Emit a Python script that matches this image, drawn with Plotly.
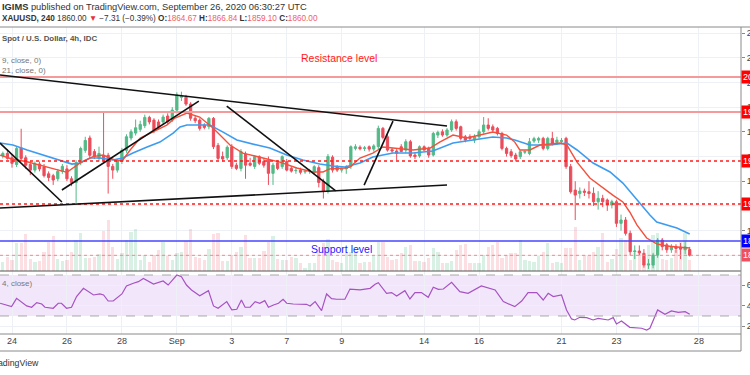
import plotly.graph_objects as go

# ---------------- data ----------------
# bar index: 4h bars, 0 = first bar of Aug 24
bar_index = list(range(-2, 149))

opens = [
    1940.5, 1942.5, 1939, 1933.5, 1947, 1939, 1933.5, 1929, 1934, 1931.5,
    1926, 1924.5, 1922, 1928, 1930, 1922, 1919, 1935, 1945, 1955,
    1944, 1938.5, 1941, 1941, 1932, 1929, 1936, 1945, 1955, 1959,
    1962, 1965, 1971.7, 1969.5, 1968, 1968, 1972.8, 1969.5, 1977.6, 1988,
    1988, 1982.5, 1971, 1969.5, 1965.5, 1964.2, 1970.9, 1949, 1940, 1939,
    1948, 1933, 1930.4, 1942, 1934.5, 1932, 1939.9, 1936, 1937, 1926.4,
    1935, 1931.8, 1936, 1930.4, 1928.5, 1929, 1927.5, 1928, 1927, 1931,
    1920, 1912, 1939.5, 1931.5, 1929, 1930, 1932, 1946.6, 1947.5, 1946.5,
    1947.9, 1946, 1948, 1962.8, 1956, 1945.5, 1944.5, 1947.9, 1945.2, 1952,
    1941.2, 1940.5, 1947.9, 1946.6, 1941.2, 1957.4, 1960, 1957.4, 1961.5, 1968.2,
    1964.1, 1956, 1956, 1953.3, 1956, 1960.1, 1965.5, 1964.1, 1962.8, 1958.7,
    1946.6, 1943.9, 1941.2, 1939.9, 1943.5, 1942.5, 1952.5, 1953.3, 1954.7, 1946.6,
    1954.7, 1951.5, 1952, 1954.7, 1931.8, 1912.8, 1910, 1912, 1911.5, 1910.2,
    1903.4, 1906.1, 1904.8, 1900.7, 1903.4, 1885.9, 1888.6, 1877.8, 1862.9, 1863.5,
    1861.6, 1852.1, 1852.1, 1860.2, 1872.4, 1868.5, 1864.5, 1867, 1866.5, 1864.5,
    1864.67,
]
highs = [
    1944, 1946, 1942, 1948, 1962.5, 1941, 1936, 1936, 1936, 1934,
    1928, 1926, 1930, 1934, 1933, 1924, 1937, 1948, 1956, 1957,
    1946, 1948, 1976, 1943, 1934, 1938, 1947, 1958, 1962, 1970,
    1969, 1974, 1973, 1971, 1970, 1974, 1975, 1980, 1992, 1992.5,
    1990, 1984, 1973, 1971, 1967, 1972, 1972, 1951, 1944, 1949,
    1950, 1935, 1946, 1944, 1939, 1941, 1941, 1938, 1940, 1935,
    1937, 1941, 1938, 1932, 1931, 1931, 1929, 1930, 1933, 1933,
    1922, 1942, 1941, 1933, 1931, 1933, 1949, 1950, 1949, 1948.5,
    1949, 1950, 1965, 1964, 1958, 1947, 1946, 1950, 1954, 1953.5,
    1943, 1949, 1949, 1948, 1960, 1961, 1962, 1963, 1970, 1970,
    1965, 1957.5, 1958, 1958, 1962, 1972, 1971, 1966, 1964, 1960,
    1948, 1946, 1943, 1945, 1945, 1955, 1956, 1956, 1956, 1956,
    1960, 1956, 1955, 1956, 1934, 1920, 1915, 1914, 1920, 1915,
    1912, 1909, 1906, 1905, 1905, 1893, 1891, 1880, 1868, 1868,
    1865, 1857, 1862, 1874, 1874, 1870, 1869, 1869, 1870, 1871,
    1866.84,
]
lows = [
    1938.5, 1937.5, 1931, 1931.5, 1937, 1930, 1925, 1927, 1928, 1923,
    1920, 1917, 1920, 1926, 1920, 1916, 1902.5, 1933, 1943, 1939,
    1938, 1936, 1935, 1910, 1922, 1927, 1934, 1943, 1953, 1957,
    1960, 1963, 1966, 1959, 1962, 1966, 1966, 1968, 1975, 1985,
    1981, 1969, 1967, 1961, 1962, 1962, 1946, 1937, 1936, 1937,
    1930, 1929, 1928, 1922, 1932, 1930, 1933, 1931, 1917, 1917,
    1929, 1930, 1928, 1927, 1926, 1925.5, 1926, 1926, 1925, 1915,
    1906, 1910, 1927, 1927.5, 1927, 1926, 1930, 1945, 1945, 1944.5,
    1944, 1944, 1946, 1954, 1944, 1943, 1937, 1944, 1943, 1939,
    1938, 1939, 1945, 1939, 1940, 1955, 1956, 1956, 1960, 1961,
    1953, 1951.5, 1953, 1951, 1954.5, 1958.5, 1961, 1960, 1957, 1945,
    1940, 1939, 1936, 1938, 1942, 1941, 1951, 1951, 1945, 1945,
    1949, 1949.5, 1950, 1930, 1910, 1888.6, 1906, 1908, 1906, 1900,
    1897, 1899, 1896, 1898, 1883, 1880, 1876, 1860, 1857, 1860,
    1850, 1849, 1849.5, 1858, 1864, 1862, 1862, 1862, 1857, 1861,
    1859.10,
]
closes = [
    1942.5, 1938.5, 1934.5, 1946.5, 1938.5, 1933, 1929, 1934, 1930, 1924.5,
    1923, 1921, 1928, 1932, 1922, 1919, 1935, 1946.5, 1953, 1941,
    1940, 1942.5, 1937, 1932, 1929, 1936.4, 1945, 1956, 1960, 1963.3,
    1966, 1971.7, 1968, 1961.5, 1964, 1972, 1968.2, 1977.6, 1989.8, 1989,
    1982.5, 1971, 1969, 1962.8, 1963.6, 1970.9, 1948, 1938.5, 1938, 1947.5,
    1932, 1930.4, 1944, 1933, 1933, 1939.9, 1934.5, 1933, 1926.4, 1933,
    1930.4, 1939.9, 1929, 1928.2, 1928.8, 1927.2, 1928, 1928.5, 1931.8, 1919,
    1912, 1940, 1929, 1929, 1929.8, 1931, 1947.9, 1947.9, 1946.3, 1947,
    1946, 1948.6, 1962.8, 1955.5, 1945.2, 1944.5, 1942.5, 1944, 1952, 1940.5,
    1939.9, 1947.9, 1945.2, 1941.2, 1958.7, 1959.5, 1957.4, 1961.5, 1968.2, 1962.8,
    1954.7, 1953.3, 1954.7, 1956, 1960.1, 1965.5, 1962.8, 1961.4, 1958.7, 1946.6,
    1942.5, 1940.7, 1938, 1943.9, 1944, 1952, 1954.5, 1954.7, 1946.6, 1954.7,
    1950.6, 1953.3, 1953, 1931.8, 1911.5, 1908.8, 1912, 1911, 1910, 1903.4,
    1906.1, 1903.4, 1900.7, 1903.4, 1885.9, 1888.6, 1877.8, 1862.9, 1863.5, 1862,
    1852.1, 1853, 1860.2, 1872.4, 1867, 1864.5, 1867, 1865.5, 1865, 1866.8,
    1860.00,
]
volumes = [
    9300, 14300, 11000, 27700, 27700, 37000, 11700, 9300, 10300, 19000,
    29300, 35000, 11700, 10300, 11000, 19000, 31000, 37700, 12700, 12700,
    14300, 17000, 40300, 51000, 24300, 11700, 17700, 31000, 39300, 42000,
    11000, 16000, 9300, 16000, 21000, 28700, 15000, 11000, 17700, 19300,
    30300, 41700, 13700, 12700, 11000, 21700, 36700, 37700, 10300, 10300,
    16000, 19300, 23700, 36000, 12700, 12700, 12700, 20000, 28700, 35300,
    11700, 11000, 11000, 13700, 12700, 8300, 3000, 8300, 8300, 19300,
    27700, 31700, 11000, 9300, 8300, 19300, 19300, 20300, 7700, 9300,
    9300, 16000, 29300, 29300, 14300, 11000, 11700, 17700, 24300, 26000,
    10000, 10000, 9300, 12700, 22700, 19300, 7700, 8300, 10300, 21000,
    26000, 27000, 8300, 8300, 8300, 16000, 24300, 26000, 29300, 12700,
    16000, 17700, 17700, 31000, 11000, 10300, 9300, 15000, 19300, 27700,
    8300, 9300, 8300, 22700, 22700, 44300, 11000, 16000, 15000, 19300,
    24300, 38300, 9300, 11700, 21700, 32700, 31000, 11000, 18300, 19300,
    14300, 26000, 36000, 37700, 11700, 11000, 12700, 21000, 29300, 37700,
    11000,
]

ema9_points = [
    (-2.6, 1941.2), (0, 1938), (3.3, 1935.8), (6.1, 1933.1), (9.8, 1929),
    (12, 1927.2), (14.8, 1934.7), (17.7, 1939.9), (19.9, 1941.2), (22.9, 1936.4),
    (24.2, 1937.2), (25.8, 1945.3), (28, 1955), (30.8, 1960), (33.8, 1965.5),
    (35.6, 1971.2), (38.2, 1975.2), (41, 1972), (43.9, 1963.1), (47.6, 1949.3),
    (50.4, 1942.8), (54.8, 1938.8), (58.5, 1935.5), (62.2, 1930.7), (65.7, 1927.5),
    (67.9, 1927.5), (69.4, 1930), (72.7, 1930.7), (73.8, 1931.5), (76, 1938.8),
    (78.8, 1942.8), (81, 1947.7), (83.2, 1946.9), (87.6, 1945.3), (91.3, 1946.9),
    (93.4, 1951.7), (96.3, 1957.4), (99.3, 1955), (102.2, 1957.4), (105, 1959.8),
    (108, 1957.4), (109.8, 1951.7), (110.9, 1945.3), (113.1, 1945.3), (115.3, 1949.3),
    (119.7, 1950.9), (121.2, 1949.3), (123.4, 1935.5), (126.2, 1922.6), (129, 1914.5),
    (131.2, 1908.8), (133.4, 1903.2), (134.9, 1895.1), (136.5, 1884.5), (138.6, 1874),
    (140.8, 1869.2), (143, 1867.5), (145.2, 1866.7), (148, 1865.9),
]
ema21_points = [
    (-2.6, 1950.9), (0.2, 1949.3), (3.3, 1945.3), (6.8, 1941.2), (10.5, 1936.4),
    (13.1, 1933.9), (14.8, 1934.7), (17, 1938.8), (19.2, 1938.8), (22, 1937.2),
    (24.2, 1938.8), (26.4, 1942.8), (29.5, 1947.7), (32.3, 1951.7), (35.2, 1959),
    (36.7, 1963.9), (38.2, 1965.5), (41, 1965.5), (43.2, 1965.5), (46.1, 1959.8),
    (49.1, 1953.4), (53.5, 1949.3), (56.3, 1946.9), (60, 1941.2), (63.5, 1937.2),
    (67.2, 1933.9), (70.1, 1932.3), (72.7, 1931.5), (76, 1934.7), (78.8, 1939.6),
    (83.2, 1942.8), (87.6, 1942.8), (91.9, 1944.5), (96.3, 1950.9), (100.7, 1953.4),
    (105, 1955.8), (108, 1955), (109.8, 1953.4), (113.1, 1949.3), (117.5, 1949.3),
    (121.2, 1950.9), (123.4, 1945.3), (126.9, 1934.7), (130.6, 1927.5), (133.4, 1918.5),
    (136.5, 1904.8), (139.3, 1892.6), (140.8, 1887), (145.2, 1882.1), (148, 1877.3),
]
rsi_points = [
    (-2.6, 42.4), (-0.1, 39.1), (1.0, 47.2), (3.2, 39.8), (4.3, 38.5), (5.4, 43.0),
    (6.5, 41.7), (7.2, 38.5), (9.0, 37.5), (10.1, 42.4), (10.8, 42.4), (11.9, 37.5),
    (13.0, 38.5), (14.1, 48.9), (15.6, 57.0), (16.7, 53.7), (17.8, 50.5), (19.2, 51.5),
    (20.0, 50.5), (21.0, 44.6), (22.1, 44.6), (24.0, 51.5), (25.0, 59.3), (26.5, 61.9),
    (27.6, 63.5), (28.7, 66.7), (29.8, 64.2), (30.9, 61.2), (33.0, 64.2), (34.1, 60.2),
    (36.0, 70.0), (37.0, 68.4), (38.1, 60.2), (39.2, 55.4), (41.0, 49.8), (42.9, 54.7),
    (44.0, 39.8), (45.0, 37.5), (46.9, 44.0), (48.0, 35.9), (49.1, 36.5), (50.1, 45.6),
    (50.9, 38.5), (52.0, 38.5), (53.1, 44.0), (54.1, 42.4), (55.2, 45.0), (56.0, 38.5),
    (57.1, 40.7), (58.2, 42.4), (59.2, 46.3), (60.0, 42.4), (61.4, 41.7), (62.9, 41.4),
    (64.3, 41.4), (65.1, 39.8), (66.2, 44.0), (67.6, 35.2), (68.7, 51.5), (69.8, 46.9),
    (70.9, 46.3), (72.7, 46.3), (73.8, 56.3), (76.0, 55.4), (78.2, 57.0), (79.3, 61.0),
    (80.0, 62.5), (81.8, 52.1), (82.9, 52.8), (84.0, 49.5), (85.8, 54.7), (86.9, 46.6),
    (88.0, 52.8), (89.4, 52.8), (90.9, 48.2), (92.0, 58.0), (93.1, 56.0), (94.2, 56.3),
    (96.0, 62.9), (97.8, 53.7), (99.6, 52.1), (102.5, 59.3), (104.4, 57.0), (105.5, 55.4),
    (107.3, 44.0), (109.8, 39.1), (111.3, 44.6), (112.7, 52.8), (114.6, 52.8), (116.0, 45.6),
    (117.1, 52.1), (118.2, 48.9), (120.0, 50.5), (121.1, 35.9), (122.2, 27.1), (122.9, 26.1),
    (124.0, 28.7), (125.5, 28.4), (126.9, 26.1), (128.0, 27.7), (130.2, 26.1), (131.3, 28.4),
    (132.0, 22.2), (133.1, 25.1), (134.9, 18.9), (136.8, 18.6), (137.5, 18.0), (138.6, 16.3),
    (139.3, 18.0), (141.0, 35.9), (142.6, 31.6), (144.0, 34.9), (145.5, 33.6), (147.0, 34.2),
    (148.0, 31.6),
]

date_tick_idx = [0, 12, 24, 36, 48, 60, 72, 90, 102, 120, 132, 150]
date_tick_text = ["24", "26", "28", "Sep", "3", "7", "9", "14", "16", "21", "23", "28"]
price_ticks = [1860, 1880, 1900, 1920, 1940, 1960, 1980, 2000, 2020, 2040]
rsi_ticks = [20, 40, 60]

# horizontal levels
level_prices = [2004.5, 1976.0, 1936.4, 1901.5, 1871.6, 1860.0]
level_colors = ["#f59a9a", "#f59a9a", "#ff1a1a", "#ff1a1a", "#4646ff", "#f08a8a"]
level_dash = ["solid", "solid", "dot", "dot", "solid", "dot"]
level_width = [2, 2, 1.6, 1.6, 1.5, 1]
level_box = ["#ff0000", "#ff0000", "#ff0000", "#ff0000", "#0000ff", "#ef5060"]

# trendlines drawn on the chart: ((bar, price), (bar, price))
trendlines = [
    ((-2.62, 2006.0), (95.0, 1964.7)),
    ((-2.62, 1898.3), (95.0, 1916.9)),
    ((-2.62, 1950.9), (10.9, 1903.2)),
    ((10.9, 1912.9), (40.8, 1984.9)),
    ((46.9, 1980.9), (70.7, 1912.1)),
    ((76.9, 1916.9), (83.2, 1968.7)),
]

# ---------------- layout geometry ----------------
W, H = 750, 375
MT, MB, MR = 27, 24, 9
PH = H - MT - MB
PW = W - MR


def py(ypx):
    return (H - MB - ypx) / PH


main_dom = [py(271), 1.0]
rsi_dom = [py(334), py(271)]
x_range = [-2.62, 159.2]

UP, DOWN = "#53b987", "#eb4d5c"
GRID = "#edf0f5"
FONT = "Liberation Sans, Arial, sans-serif"

vol_colors = ["rgba(83,185,135,0.22)" if c >= o else "rgba(235,77,92,0.18)"
              for o, c in zip(opens, closes)]

fig = go.Figure()
fig.add_trace(go.Bar(x=bar_index, y=volumes, marker=dict(color=vol_colors, line=dict(width=0)),
                     width=0.72, xaxis="x", yaxis="y", hoverinfo="skip"))
fig.add_trace(go.Candlestick(
    x=bar_index, open=opens, high=highs, low=lows, close=closes,
    increasing=dict(line=dict(color=UP, width=1), fillcolor=UP),
    decreasing=dict(line=dict(color=DOWN, width=1), fillcolor=DOWN),
    whiskerwidth=0, xaxis="x", yaxis="y3"))
fig.add_trace(go.Scatter(x=[p[0] for p in ema21_points], y=[p[1] for p in ema21_points],
                         mode="lines", line=dict(color="#3d9cf0", width=1.6),
                         xaxis="x", yaxis="y3"))
fig.add_trace(go.Scatter(x=[p[0] for p in ema9_points], y=[p[1] for p in ema9_points],
                         mode="lines", line=dict(color="#f4503c", width=1.4),
                         xaxis="x", yaxis="y3"))
fig.add_trace(go.Scatter(x=[p[0] for p in rsi_points], y=[p[1] for p in rsi_points],
                         mode="lines", line=dict(color="#a652c2", width=1.2),
                         xaxis="x2", yaxis="y2"))

shapes = []
shapes.append(dict(type="rect", xref="paper", yref="y2", x0=0, x1=1, y0=30, y1=70,
                   fillcolor="#f2e6fb", line=dict(width=0), layer="below"))
for lv in (70, 30):
    shapes.append(dict(type="line", xref="paper", yref="y2", x0=0, x1=1, y0=lv, y1=lv,
                       line=dict(color="#a8a8a8", width=1, dash="dash")))
for p, c, d, w in zip(level_prices, level_colors, level_dash, level_width):
    shapes.append(dict(type="line", xref="paper", yref="y3", x0=0, x1=1, y0=p, y1=p,
                       line=dict(color=c, width=w, dash=d)))
for (a, b) in trendlines:
    shapes.append(dict(type="line", xref="x", yref="y3", x0=a[0], y0=a[1], x1=b[0], y1=b[1],
                       line=dict(color="#111111", width=1.6)))
frame = "#8a8a8a"
shapes += [
    dict(type="line", xref="paper", yref="paper", x0=0, x1=1.02, y0=1, y1=1, line=dict(color=frame, width=1)),
    dict(type="line", xref="paper", yref="paper", x0=0, x1=1, y0=main_dom[0], y1=main_dom[0], line=dict(color="#555555", width=1)),
    dict(type="line", xref="paper", yref="paper", x0=0, x1=1, y0=rsi_dom[0], y1=rsi_dom[0], line=dict(color=frame, width=1)),
    dict(type="line", xref="paper", yref="paper", x0=0, x1=1, y0=0, y1=0, line=dict(color=frame, width=1)),
    dict(type="line", xref="paper", yref="paper", x0=1, x1=1, y0=0, y1=1, line=dict(color=frame, width=1)),
]

ann = []
ann.append(dict(xref="paper", yref="paper", x=0, y=py(7), xanchor="left", yanchor="middle", showarrow=False,
                text="<b>IGIMS</b> published on TradingView.com, September 26, 2020 06:30:27 UTC",
                font=dict(family=FONT, size=9.3, color="#333333")))
red = "#f0606a"
ann.append(dict(xref="paper", yref="paper", x=0, y=py(19), xanchor="left", yanchor="middle", showarrow=False,
                text=("<b>XAUUSD, 240</b> 1860.00 <span style='color:#e8303c'>▼</span> −7.31 (−0.39%) "
                      f"<b>O:</b><span style='color:{red}'>1864.67</span> "
                      f"<b>H:</b><span style='color:{red}'>1866.84</span> "
                      f"<b>L:</b><span style='color:{red}'>1859.10</span> "
                      f"<b>C:</b><span style='color:{red}'>1860.00</span>"),
                font=dict(family=FONT, size=8.2, color="#333333")))
ann.append(dict(xref="paper", yref="paper", x=0, y=py(38), xanchor="left", yanchor="middle", showarrow=False,
                text="<b>Spot / U.S. Dollar, 4h, IDC</b>", font=dict(family=FONT, size=7.9, color="#555555")))
ann.append(dict(xref="paper", yref="paper", x=0, y=py(60), xanchor="left", yanchor="middle", showarrow=False,
                text="9, close, 0)", font=dict(family=FONT, size=8, color="#777777")))
ann.append(dict(xref="paper", yref="paper", x=0, y=py(70), xanchor="left", yanchor="middle", showarrow=False,
                text="21, close, 0)", font=dict(family=FONT, size=8, color="#777777")))
ann.append(dict(xref="paper", yref="paper", x=0, y=py(283), xanchor="left", yanchor="middle", showarrow=False,
                text="4, close)", font=dict(family=FONT, size=8, color="#777777")))
ann.append(dict(xref="paper", yref="paper", x=339 / PW, y=py(58), xanchor="center", yanchor="middle", showarrow=False,
                text="Resistance level", font=dict(family=FONT, size=10.5, color="#ff1a1a")))
ann.append(dict(xref="paper", yref="paper", x=341 / PW, y=py(249), xanchor="center", yanchor="middle", showarrow=False,
                text="Support level", font=dict(family=FONT, size=10.5, color="#2020ff")))
ann.append(dict(xref="paper", yref="paper", x=41 / PW, y=py(363), xanchor="right", yanchor="middle", showarrow=False,
                text="TradingView", font=dict(family=FONT, size=8.8, color="#333333")))
for p, bc in zip(level_prices, level_box):
    ann.append(dict(xref="paper", yref="y3", x=1.0, y=p, xanchor="left", yanchor="middle", showarrow=False,
                    text=f"{p:.2f}", bgcolor=bc, borderpad=1,
                    font=dict(family=FONT, size=9, color="white")))

fig.update_layout(
    width=W, height=H, margin=dict(l=0, r=MR, t=MT, b=MB, pad=0, autoexpand=False),
    paper_bgcolor="white", plot_bgcolor="white", showlegend=False,
    font=dict(family=FONT, size=9, color="#444444"),
    shapes=shapes, annotations=ann, bargap=0,
    xaxis=dict(domain=[0, 1], range=x_range, anchor="y", tickmode="array", tickvals=date_tick_idx,
               showticklabels=False, ticks="", showgrid=True, gridcolor=GRID, zeroline=False,
               rangeslider=dict(visible=False), automargin=False),
    yaxis=dict(domain=main_dom, range=[0, 244000], visible=False, showgrid=False, fixedrange=True,
               automargin=False),
    yaxis3=dict(overlaying="y", anchor="x", side="right", range=[1847.3, 2044.9], tickmode="array",
                tickvals=price_ticks, ticktext=[f"{t:.2f}" for t in price_ticks],
                ticks="outside", ticklen=3, tickcolor="#888888", showgrid=True, gridcolor=GRID,
                zeroline=False, tickfont=dict(size=9, color="#444444"), automargin=False),
    xaxis2=dict(domain=[0, 1], range=x_range, anchor="y2", tickmode="array", tickvals=date_tick_idx,
                ticktext=date_tick_text, ticks="", showgrid=True, gridcolor=GRID, zeroline=False,
                tickfont=dict(size=9, color="#444444"), automargin=False),
    yaxis2=dict(domain=rsi_dom, anchor="x2", side="right", range=[12.4, 73.9], tickmode="array",
                tickvals=rsi_ticks, ticktext=[f"{t:.2f}" for t in rsi_ticks], ticks="outside",
                ticklen=3, tickcolor="#888888", showgrid=True, gridcolor=GRID, zeroline=False,
                tickfont=dict(size=9, color="#444444"), automargin=False),
)

fig.write_html("out.html", config={"displayModeBar": False},
               post_script="document.body.style.margin='0px';")
